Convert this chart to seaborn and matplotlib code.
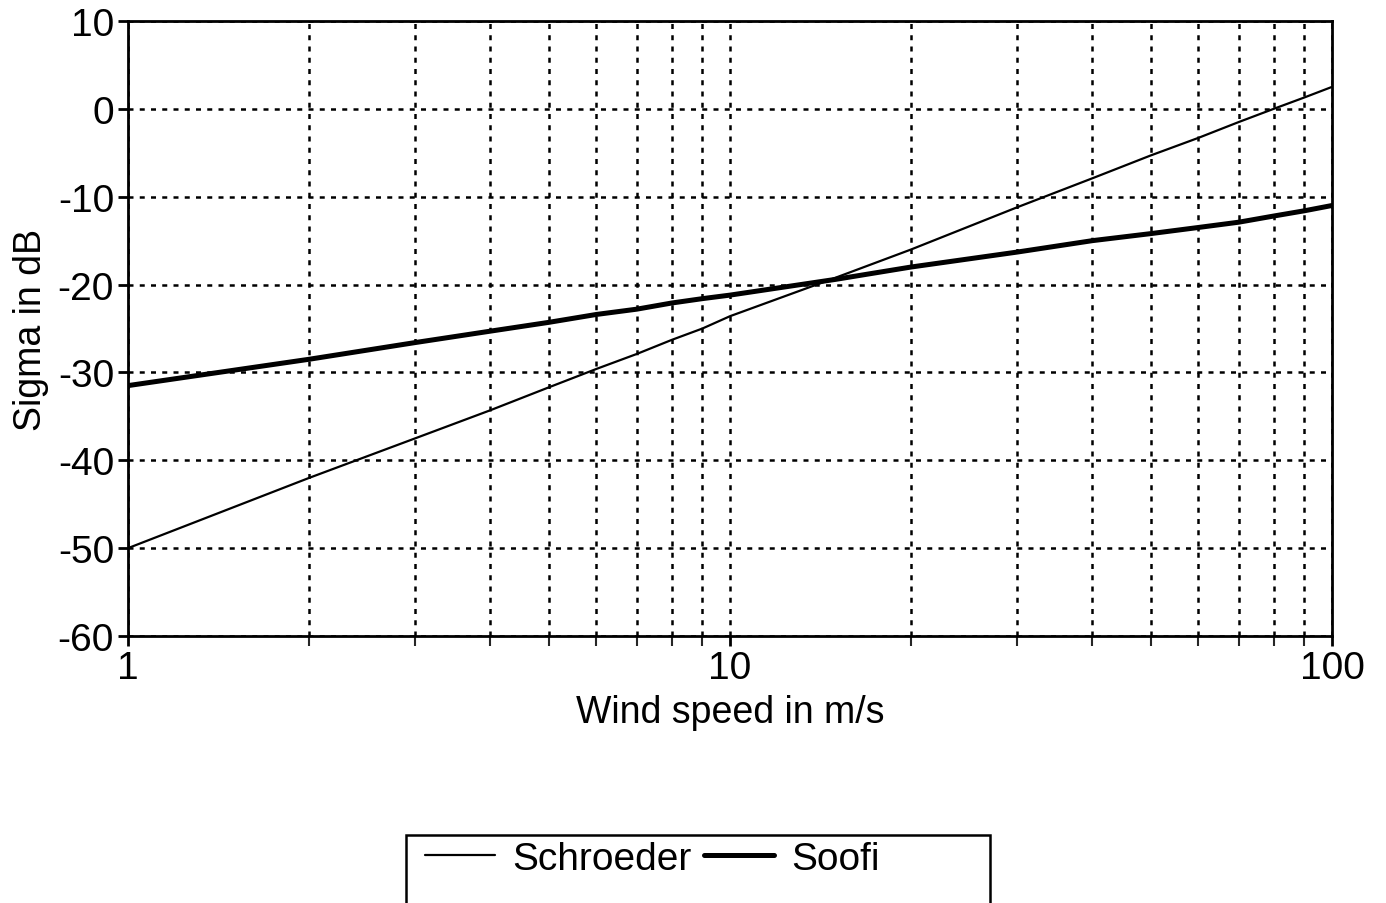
import numpy as np
import pandas as pd
import matplotlib
matplotlib.use("Agg")
import matplotlib.pyplot as plt
import matplotlib.ticker as mticker
from matplotlib.patches import Rectangle
import seaborn as sns

# Wind speed (m/s) and backscatter sigma (dB) for the two models
wind_speed = [1, 2, 3, 4, 5, 6, 7, 8, 9, 10, 15, 20, 30, 40, 50, 60, 70, 80, 90, 100]
schroeder = [-50.0, -42.0, -37.5, -34.3, -31.7, -29.6, -27.9, -26.3, -25.0, -23.6,
             -19.2, -16.0, -11.2, -7.9, -5.3, -3.3, -1.5, 0.0, 1.3, 2.5]
soofi = [-31.5, -28.5, -26.6, -25.3, -24.3, -23.4, -22.8, -22.1, -21.6, -21.2,
         -19.4, -18.0, -16.3, -15.0, -14.2, -13.5, -12.9, -12.2, -11.6, -11.0]

series_names = ["Schroeder", "Soofi"]
x_ticks = [1, 10, 100]
x_tick_labels = ["1", "10", "100"]
y_ticks = [-60, -50, -40, -30, -20, -10, 0, 10]

df = pd.DataFrame({
    "wind": wind_speed * 2,
    "sigma": schroeder + soofi,
    "model": [series_names[0]] * len(wind_speed) + [series_names[1]] * len(wind_speed),
})

sns.set_style("ticks")
plt.rcParams["font.family"] = ["Liberation Sans", "DejaVu Sans"]
plt.rcParams["axes.unicode_minus"] = False
plt.rcParams["text.color"] = "black"
plt.rcParams["axes.labelcolor"] = "black"

W, H = 1386, 904
fig = plt.figure(figsize=(W / 100, H / 100), dpi=100)
ax = fig.add_axes([128 / W, 1 - 637 / H, (1332 - 128) / W, (637 - 22) / H])

widths = {"Schroeder": 1.6, "Soofi": 3.6}
for name in series_names:
    sns.lineplot(data=df[df["model"] == name], x="wind", y="sigma", ax=ax,
                 color="black", linewidth=widths[name], label=name, legend=False)

ax.set_xscale("log")
ax.set_xlim(1, 100)
ax.set_ylim(-60, 10)
ax.set_xticks(x_ticks)
ax.set_xticklabels(x_tick_labels)
ax.xaxis.set_minor_locator(mticker.LogLocator(base=10, subs=np.arange(2, 10)))
ax.xaxis.set_minor_formatter(mticker.NullFormatter())
ax.set_yticks(y_ticks)

grid_kw = dict(color="black", linewidth=1.8, linestyle=(0, (2.0, 2.5)))
ax.grid(True, which="major", axis="both", **grid_kw)
ax.grid(True, which="minor", axis="x", **grid_kw)
ax.set_axisbelow(True)

for sp in ax.spines.values():
    sp.set_linewidth(2.0)
    sp.set_color("black")
    sp.set_visible(True)

ax.tick_params(axis="both", which="major", direction="out", length=7, width=2,
               labelsize=28, colors="black", pad=3)
ax.tick_params(axis="x", which="minor", direction="out", length=7, width=1.5)

ax.set_xlabel("Wind speed in m/s", fontsize=27, labelpad=6)
ax.set_ylabel("Sigma in dB", fontsize=27, labelpad=6)

# Legend box below the plot
handles, labels = ax.get_legend_handles_labels()
leg = fig.legend(handles, labels, loc="center left",
                 bbox_to_anchor=(425 / W, 1 - 860 / H), ncol=2, frameon=False,
                 fontsize=28, handlelength=1.8, handletextpad=0.45,
                 columnspacing=0.3, borderpad=0, borderaxespad=0)
fig.add_artist(Rectangle((406 / W, 1 - 930 / H), (990 - 406) / W, (930 - 836) / H,
                         transform=fig.transFigure, fill=False, edgecolor="black",
                         linewidth=1.8, clip_on=False))

fig.savefig("out.png", dpi=100, facecolor="white")
